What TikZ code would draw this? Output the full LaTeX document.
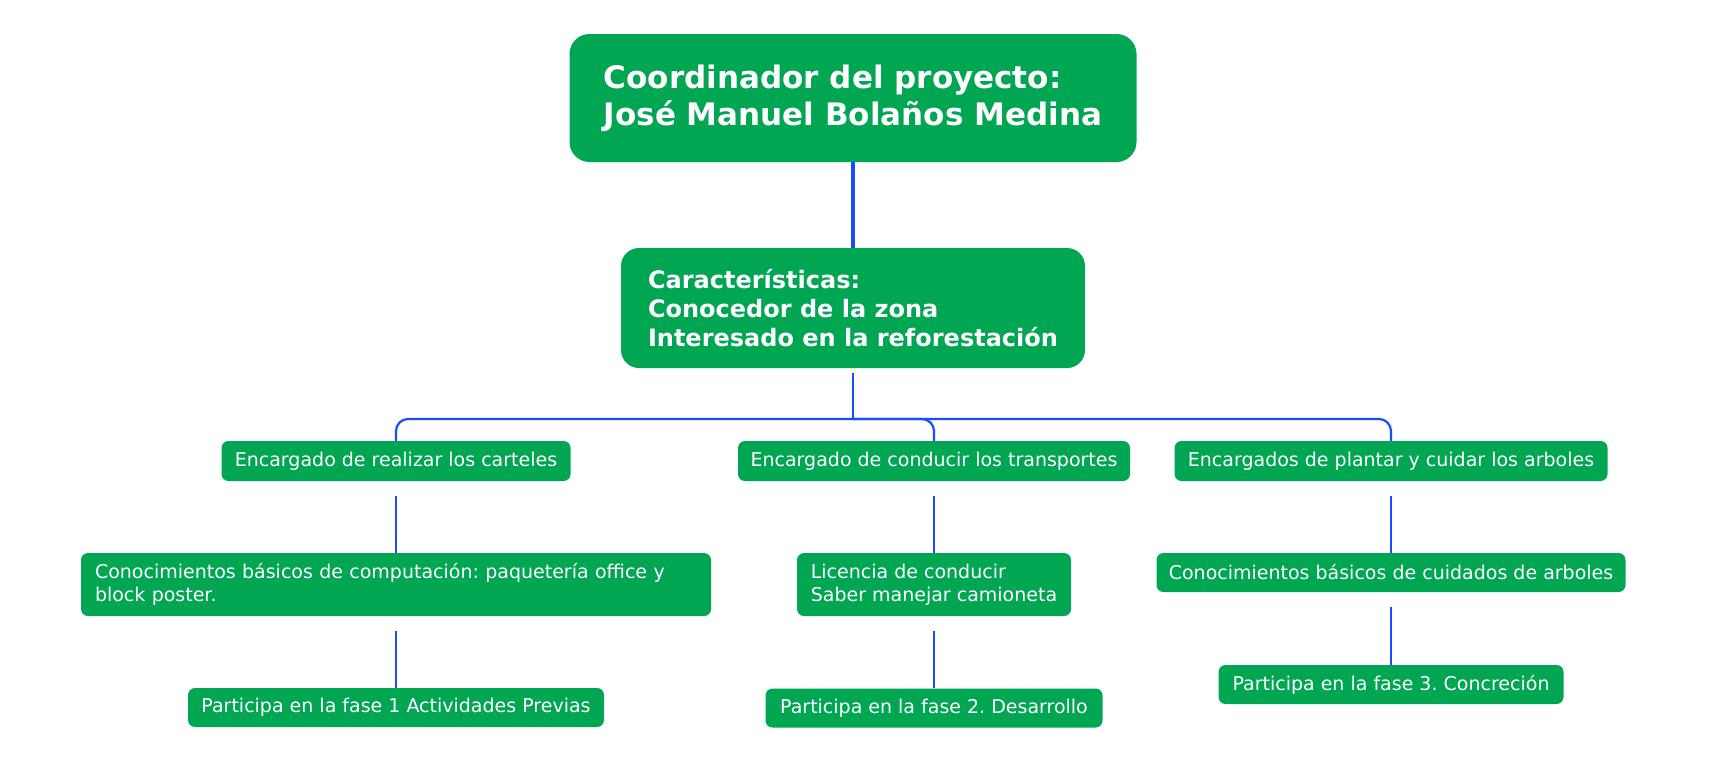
\documentclass[tikz,border=0pt]{standalone}
\usepackage{fontspec}
\setmainfont{DejaVu Sans}
\usepackage{tikz}
\frenchspacing
\definecolor{mapgreen}{RGB}{0, 166, 81}
\definecolor{linkblue}{RGB}{25, 75, 255}

\begin{document}
\begin{tikzpicture}[x = 1pt, y = -1pt,
	topbox/.style = {fill = mapgreen, text = white, rounded corners = 20pt, align = left, inner sep = 0pt, font = \bfseries\fontsize{31}{37}\selectfont},
	infobox/.style = {fill = mapgreen, text = white, rounded corners = 18pt, align = left, inner sep = 0pt, font = \bfseries\fontsize{24}{29}\selectfont},
	leaf/.style = {fill = mapgreen, text = white, rounded corners = 7pt, align = left, inner sep = 0pt, font = \fontsize{19}{23}\selectfont},
	trunk/.style = {draw = linkblue, line width = 3.2pt},
	branch/.style = {draw = linkblue, line width = 2.2pt, rounded corners = 12pt},
	twig/.style = {draw = linkblue, line width = 1.6pt}]
			\useasboundingbox (0,0) rectangle (1720,766);
			\node (root) at (853,98) [topbox, minimum width = 567, minimum height = 128] {Coordinador del proyecto:\\José Manuel Bolaños Medina};
			\node (char) at (853,308) [infobox, minimum width = 464, minimum height = 120] {Características:\\Conocedor de la zona\\Interesado en la reforestación};
			\coordinate (hub) at (853,419);
			\node (a2) at (396,461) [leaf, minimum width = 349, minimum height = 40] {Encargado de realizar los carteles};
			\node (b2) at (934,461) [leaf, minimum width = 392, minimum height = 40] {Encargado de conducir los transportes};
			\node (c2) at (1391,461) [leaf, minimum width = 433, minimum height = 40] {Encargados de plantar y cuidar los arboles};
			\node (a3) at (396,584.5) [leaf, text width = 602, minimum height = 63, inner xsep = 14pt] {Conocimientos básicos de computación: paquetería office y\\block poster.};
			\node (b3) at (934,584.5) [leaf, minimum width = 274, minimum height = 63] {Licencia de conducir\\Saber manejar camioneta};
			\node (c3) at (1391,572.5) [leaf, minimum width = 469, minimum height = 39] {Conocimientos básicos de cuidados de arboles};
			\node (a4) at (396,707.5) [leaf, minimum width = 416, minimum height = 39] {Participa en la fase 1 Actividades Previas};
			\node (b4) at (934,708) [leaf, minimum width = 337, minimum height = 39] {Participa en la fase 2. Desarrollo};
			\node (c4) at (1391,684.5) [leaf, minimum width = 345, minimum height = 39] {Participa en la fase 3. Concreción};
			\draw[trunk] (root) edge (char);
			\draw[branch] ([yshift=-5pt]char.south) -- (hub);
			\draw[branch] (hub) -| (a2.north);
			\draw[branch] (hub) -| (b2.north);
			\draw[branch] (hub) -| (c2.north);
			\draw[twig] ([yshift=-15pt]a2.south) -- (a3.north);
			\draw[twig] ([yshift=-15pt]b2.south) -- (b3.north);
			\draw[twig] ([yshift=-15pt]c2.south) -- (c3.north);
			\draw[twig] ([yshift=-15pt]a3.south) -- (a4.north);
			\draw[twig] ([yshift=-15pt]b3.south) -- (b4.north);
			\draw[twig] ([yshift=-15pt]c3.south) -- (c4.north);
\end{tikzpicture}
\end{document}
